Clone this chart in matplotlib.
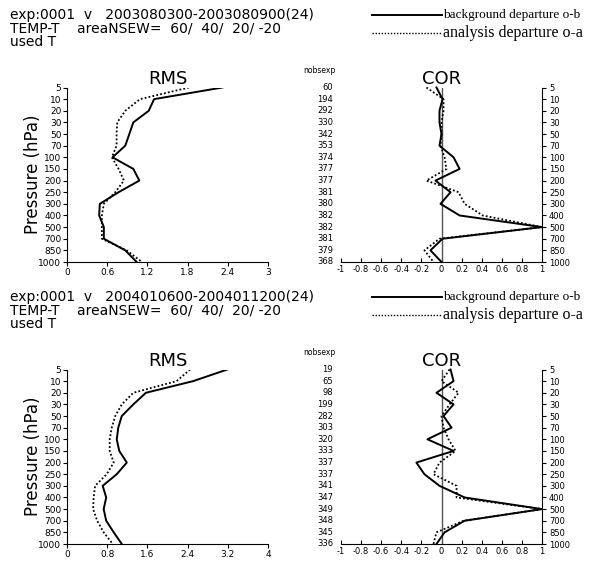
import matplotlib
matplotlib.use('Agg')
import matplotlib.pyplot as plt

plt.rcParams['axes.unicode_minus'] = False
plt.rcParams['font.family'] = 'DejaVu Sans'

W, H = 589, 561

LEVELS = ['5', '10', '20', '30', '50', '70', '100', '150', '200', '250',
          '300', '400', '500', '700', '850', '1000']
COR_TICKS = [-1, -0.8, -0.6, -0.4, -0.2, 0, 0.2, 0.4, 0.6, 0.8, 1]
DOT = (0, (1, 1.2))

# --- periodo 1 ---
HDR1 = 'exp:0001  v   2003080300-2003080900(24)'
RMS_TICKS1 = [0, 0.6, 1.2, 1.8, 2.4, 3]
RMS_OB1 = [2.32, 1.30, 1.22, 0.99, 0.93, 0.87, 0.68, 0.99, 1.08, 0.77,
           0.49, 0.48, 0.55, 0.55, 0.87, 1.04]
RMS_OA1 = [1.82, 1.09, 0.87, 0.75, 0.74, 0.74, 0.67, 0.77, 0.85, 0.72,
           0.55, 0.52, 0.52, 0.52, 0.89, 1.12]
COR_OB1 = [-0.05, 0.01, -0.02, -0.02, 0.0, -0.02, 0.12, 0.18, -0.06, 0.09,
           -0.01, 0.18, 1.0, 0.01, -0.11, 0.0]
COR_OA1 = [-0.15, 0.02, 0.02, 0.0, 0.0, -0.01, 0.03, 0.05, -0.15, 0.17,
           0.23, 0.41, 1.0, -0.02, -0.17, -0.08]
NOBS1 = [60, 194, 292, 330, 342, 353, 374, 377, 377, 381, 380, 382, 382,
         381, 379, 368]

# --- periodo 2 ---
HDR2 = 'exp:0001  v   2004010600-2004011200(24)'
RMS_TICKS2 = [0, 0.8, 1.6, 2.4, 3.2, 4]
RMS_OB2 = [3.19, 2.51, 1.57, 1.32, 1.09, 1.02, 0.99, 1.04, 1.19, 0.99,
           0.71, 0.78, 0.73, 0.78, 0.93, 1.09]
RMS_OA2 = [2.45, 2.18, 1.32, 1.09, 0.96, 0.89, 0.85, 0.85, 0.93, 0.79,
           0.56, 0.53, 0.52, 0.60, 0.73, 0.91]
COR_OB2 = [0.09, 0.12, -0.05, 0.12, 0.02, 0.10, -0.14, 0.12, -0.25, -0.17,
           -0.02, 0.23, 1.0, 0.23, 0.03, -0.05]
COR_OA2 = [0.08, 0.0, 0.17, 0.08, 0.0, 0.02, 0.07, 0.14, -0.02, -0.08,
           0.15, 0.15, 1.0, 0.22, -0.05, -0.08]
NOBS2 = [19, 65, 98, 199, 282, 303, 320, 333, 337, 337, 341, 347, 349,
         348, 345, 336]


def fx(x):
    return x / W


def fy(y):
    return 1 - y / H


def fmt(v):
    return ('%g' % v)


def panel(fig, dy, header, rms_ob, rms_oa, rms_ticks, cor_ob, cor_oa, nobs):
    idx = list(range(len(LEVELS)))
    top, bot = 87.5 + dy, 262 + dy

    # cabecalho
    for i, line in enumerate(header.split('\n')):
        fig.text(fx(10), fy(15 + dy + 13.5 * i), line, fontsize=10,
                 va='center', ha='left')

    # legenda
    fig.add_artist(plt.Line2D([fx(372), fx(442)], [fy(15 + dy)] * 2,
                              color='black', lw=1.4))
    fig.add_artist(plt.Line2D([fx(372), fx(442)], [fy(33 + dy)] * 2,
                              color='black', lw=1.0, ls=DOT))
    fig.text(fx(443), fy(15 + dy), 'background departure o-b',
             family='Liberation Serif', fontsize=9.5, va='center')
    fig.text(fx(443), fy(33 + dy), 'analysis departure o-a',
             family='Liberation Serif', fontsize=11.5, va='center')

    # --- RMS ---
    ax = fig.add_axes([fx(67), fy(bot), fx(268) - fx(67), fy(top) - fy(bot)])
    ax.plot(rms_ob, idx, color='black', lw=1.4)
    ax.plot(rms_oa, idx, color='black', lw=1.3, ls=DOT)
    ax.set_ylim(len(LEVELS) - 1, 0)
    ax.set_xlim(rms_ticks[0], rms_ticks[-1])
    ax.set_yticks(idx)
    ax.set_yticklabels(LEVELS)
    ax.set_xticks(rms_ticks)
    ax.set_xticklabels([fmt(v) for v in rms_ticks])
    ax.tick_params(labelsize=6.5, length=3, width=0.8, pad=1)
    for s in ('top', 'right'):
        ax.spines[s].set_visible(False)
    ax.set_ylabel('Pressure (hPa)', fontsize=12)
    ax.yaxis.set_label_coords(-0.125, 0.5)
    ax.set_title('RMS', fontsize=13, pad=1)
    ax.patch.set_alpha(0)

    # --- COR ---
    ax = fig.add_axes([fx(341), fy(bot), fx(542) - fx(341), fy(top) - fy(bot)])
    ax.axvline(0, color='#555555', lw=1.0)
    ax.plot(cor_ob, idx, color='black', lw=1.4, clip_on=False)
    ax.plot(cor_oa, idx, color='black', lw=1.3, ls=DOT, clip_on=False)
    ax.set_ylim(len(LEVELS) - 1, 0)
    ax.set_xlim(-1, 1)
    ax.set_xticks(COR_TICKS)
    ax.set_xticklabels([fmt(v) for v in COR_TICKS])
    ax.yaxis.tick_right()
    ax.set_yticks(idx)
    ax.set_yticklabels(LEVELS)
    ax.tick_params(axis='x', direction='in', labelsize=6, length=3,
                   width=0.8, pad=2)
    ax.tick_params(axis='y', direction='out', labelsize=6, length=3,
                   width=0.8, pad=2)
    for s in ('top', 'left'):
        ax.spines[s].set_visible(False)
    ax.set_title('COR', fontsize=13, pad=1)
    tr = ax.get_yaxis_transform()
    for i, n in enumerate(nobs):
        ax.text(-0.04, i, str(n), transform=tr, ha='right', va='center',
                fontsize=6)
    ax.text(-0.11, -1.5, 'nobsexp', transform=tr, ha='center',
            va='center', fontsize=5.5)
    ax.patch.set_alpha(0)


fig = plt.figure(figsize=(W / 100, H / 100), dpi=100)
panel(fig, 0, HDR1 + '\nTEMP-T    areaNSEW=  60/  40/  20/ -20\nused T',
      RMS_OB1, RMS_OA1, RMS_TICKS1, COR_OB1, COR_OA1, NOBS1)
panel(fig, 282, HDR2 + '\nTEMP-T    areaNSEW=  60/  40/  20/ -20\nused T',
      RMS_OB2, RMS_OA2, RMS_TICKS2, COR_OB2, COR_OA2, NOBS2)
fig.savefig('out.png', dpi=100)
